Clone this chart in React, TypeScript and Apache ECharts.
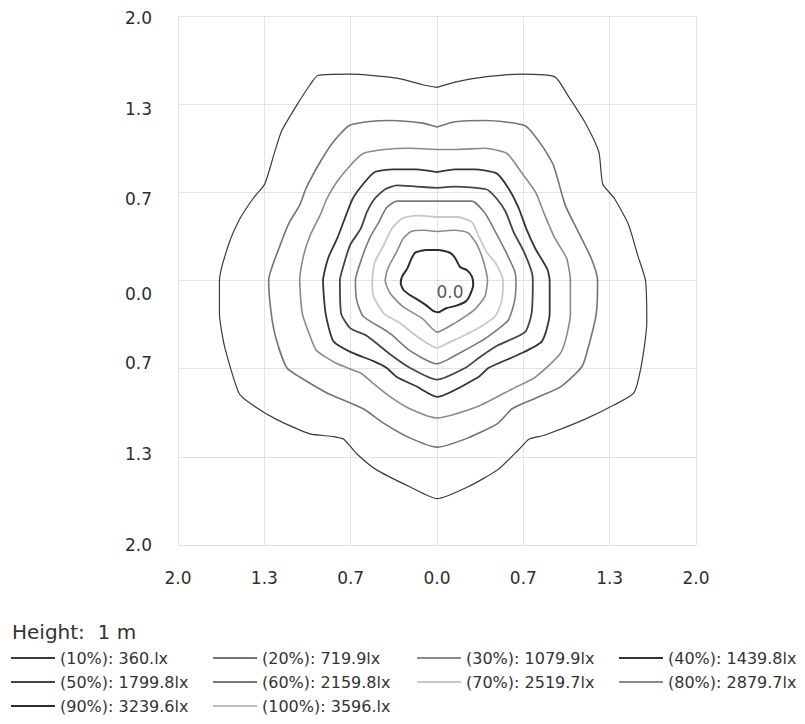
import React, { useEffect, useRef } from "react";
import * as echarts from "echarts";

// ---- tick labels ----
const xTickLabels = ["2.0", "1.3", "0.7", "0.0", "0.7", "1.3", "2.0"];
const yTickLabels = ["2.0", "1.3", "0.7", "0.0", "0.7", "1.3", "2.0"]; // bottom -> top

// ---- texts ----
const heightLabel = "Height:  1 m";
const centerLabel = "0.0";
const levelNames = [
  "(10%): 360.lx",
  "(20%): 719.9lx",
  "(30%): 1079.9lx",
  "(40%): 1439.8lx",
  "(50%): 1799.8lx",
  "(60%): 2159.8lx",
  "(70%): 2519.7lx",
  "(80%): 2879.7lx",
  "(90%): 3239.6lx",
  "(100%): 3596.lx",
];

// ---- isolux contours (x, y in metres) ----
const contour10 = [[0.00,1.46],[0.14,1.50],[0.37,1.54],[0.65,1.56],[0.91,1.54],[1.01,1.40],[1.14,1.20],[1.25,0.97],[1.28,0.73],[1.37,0.62],[1.48,0.42],[1.55,0.19],[1.61,0.00],[1.62,-0.32],[1.58,-0.63],[1.52,-0.85],[1.37,-0.94],[1.14,-1.05],[0.83,-1.17],[0.71,-1.20],[0.63,-1.28],[0.47,-1.43],[0.24,-1.56],[0.00,-1.65],[-0.21,-1.56],[-0.47,-1.43],[-0.62,-1.31],[-0.72,-1.20],[-0.80,-1.18],[-0.98,-1.16],[-1.24,-1.05],[-1.44,-0.93],[-1.53,-0.85],[-1.64,-0.50],[-1.68,-0.25],[-1.68,0.00],[-1.61,0.27],[-1.52,0.47],[-1.42,0.62],[-1.33,0.73],[-1.26,0.95],[-1.20,1.13],[-1.08,1.33],[-0.98,1.48],[-0.92,1.55],[-0.67,1.56],[-0.31,1.53],[-0.11,1.48]];
const contour20 = [[0.00,1.16],[0.14,1.20],[0.37,1.21],[0.68,1.17],[0.81,1.02],[0.90,0.87],[0.99,0.57],[1.09,0.37],[1.19,0.17],[1.24,0.00],[1.23,-0.25],[1.17,-0.50],[1.12,-0.65],[0.96,-0.80],[0.76,-0.89],[0.58,-0.97],[0.47,-1.08],[0.24,-1.19],[0.00,-1.26],[-0.21,-1.19],[-0.41,-1.08],[-0.57,-0.97],[-0.85,-0.85],[-1.06,-0.73],[-1.16,-0.66],[-1.24,-0.45],[-1.28,-0.25],[-1.30,0.00],[-1.21,0.27],[-1.14,0.44],[-1.06,0.57],[-1.01,0.70],[-0.90,0.90],[-0.80,1.05],[-0.68,1.17],[-0.54,1.20],[-0.36,1.21],[-0.11,1.19]];
const contour30 = [[0.00,0.99],[0.14,0.99],[0.37,1.00],[0.54,0.96],[0.65,0.82],[0.76,0.67],[0.83,0.50],[0.91,0.32],[1.00,0.17],[1.03,0.00],[1.03,-0.25],[0.96,-0.54],[0.76,-0.73],[0.58,-0.82],[0.32,-0.95],[0.00,-1.04],[-0.21,-0.97],[-0.36,-0.88],[-0.49,-0.78],[-0.59,-0.70],[-0.77,-0.63],[-0.93,-0.53],[-0.98,-0.42],[-1.04,-0.25],[-1.06,0.00],[-1.03,0.19],[-0.98,0.34],[-0.90,0.50],[-0.85,0.62],[-0.77,0.75],[-0.67,0.87],[-0.57,0.96],[-0.41,0.99],[-0.21,1.00]];
const contour40 = [[0.00,0.82],[0.14,0.84],[0.29,0.84],[0.46,0.81],[0.55,0.70],[0.63,0.55],[0.69,0.39],[0.76,0.24],[0.85,0.09],[0.87,0.00],[0.87,-0.25],[0.81,-0.46],[0.63,-0.56],[0.40,-0.66],[0.32,-0.73],[0.00,-0.88],[-0.16,-0.80],[-0.31,-0.73],[-0.39,-0.66],[-0.49,-0.61],[-0.67,-0.54],[-0.80,-0.46],[-0.86,-0.25],[-0.88,0.00],[-0.84,0.17],[-0.77,0.32],[-0.70,0.50],[-0.65,0.62],[-0.57,0.73],[-0.48,0.82],[-0.34,0.84],[-0.16,0.84]];
const contour50 = [[0.00,0.70],[0.14,0.71],[0.38,0.69],[0.46,0.62],[0.53,0.52],[0.59,0.37],[0.67,0.22],[0.73,0.07],[0.74,0.00],[0.73,-0.25],[0.68,-0.39],[0.47,-0.49],[0.33,-0.58],[0.22,-0.66],[0.00,-0.75],[-0.21,-0.66],[-0.36,-0.56],[-0.54,-0.42],[-0.67,-0.36],[-0.74,-0.25],[-0.75,0.00],[-0.72,0.12],[-0.67,0.27],[-0.59,0.39],[-0.54,0.52],[-0.48,0.62],[-0.40,0.69],[-0.31,0.72],[-0.16,0.71]];
const contour60 = [[0.00,0.60],[0.11,0.60],[0.27,0.60],[0.37,0.51],[0.45,0.37],[0.53,0.22],[0.60,0.07],[0.61,0.00],[0.60,-0.15],[0.55,-0.30],[0.40,-0.42],[0.32,-0.47],[0.19,-0.54],[0.00,-0.63],[-0.21,-0.53],[-0.35,-0.41],[-0.41,-0.37],[-0.57,-0.27],[-0.62,-0.15],[-0.63,0.00],[-0.58,0.17],[-0.52,0.32],[-0.45,0.44],[-0.39,0.55],[-0.31,0.60],[-0.18,0.60]];
const contour70 = [[0.00,0.48],[0.16,0.48],[0.27,0.44],[0.32,0.34],[0.38,0.22],[0.46,0.12],[0.51,0.00],[0.50,-0.15],[0.45,-0.27],[0.32,-0.36],[0.22,-0.41],[0.09,-0.47],[0.00,-0.51],[-0.13,-0.44],[-0.29,-0.32],[-0.41,-0.25],[-0.49,-0.12],[-0.50,0.00],[-0.48,0.14],[-0.41,0.27],[-0.35,0.39],[-0.27,0.47],[-0.16,0.49]];
const contour80 = [[0.00,0.37],[0.14,0.38],[0.24,0.36],[0.31,0.27],[0.36,0.14],[0.39,0.00],[0.37,-0.12],[0.29,-0.22],[0.14,-0.32],[0.00,-0.39],[-0.11,-0.29],[-0.26,-0.20],[-0.36,-0.10],[-0.40,0.00],[-0.38,0.09],[-0.31,0.22],[-0.26,0.32],[-0.20,0.37],[-0.11,0.38]];
const contour90 = [[-0.09,0.23],[0.01,0.23],[0.10,0.21],[0.14,0.17],[0.18,0.10],[0.23,0.08],[0.27,0.03],[0.28,-0.03],[0.25,-0.12],[0.22,-0.16],[0.15,-0.19],[0.07,-0.21],[0.01,-0.24],[-0.03,-0.23],[-0.08,-0.19],[-0.14,-0.15],[-0.21,-0.11],[-0.26,-0.07],[-0.28,-0.02],[-0.27,0.03],[-0.23,0.09],[-0.20,0.16],[-0.17,0.21],[-0.14,0.22]];
const contour100: number[][] = [];
const centerPoint = [[0, 0]];

const contours = [contour10, contour20, contour30, contour40, contour50, contour60, contour70, contour80, contour90, contour100];

// ---- styles ----
const FONT = "DejaVu Sans";
const levelColors = ["#3c3c3c", "#747474", "#8a8a8a", "#353535", "#444444", "#7a7a7a", "#c8c8c8", "#8a8a8a", "#2c2c2c", "#bdbdbd"];
const levelWidths = [1.2, 1.6, 1.6, 1.8, 1.8, 1.6, 1.8, 1.6, 2, 1.6];
const yLabelShift = [0, -3, -6, 13, 7, 5, 2]; // px, bottom -> top, + = down
const legendLefts = [11, 213, 417, 619];
const legendTops = [649, 673, 697];

export default function App() {
  const ref = useRef<HTMLDivElement>(null);
  useEffect(() => {
    if (!ref.current) return;
    const chart = echarts.init(ref.current, undefined, { renderer: "svg" });

    const rich: Record<string, any> = {};
    yLabelShift.forEach((s, i) => {
      rich["s" + i] = {
        fontSize: 17,
        fontFamily: FONT,
        color: "#2e2e2e",
        padding: s >= 0 ? [2 * s, 0, 0, 0] : [0, 0, -2 * s, 0],
      };
    });

    const lineSeries = contours.map((c, i) => ({
      name: levelNames[i],
      type: "line",
      data: c.length ? [...c, c[0]] : [],
      symbol: "none",
      smooth: 0.2,
      lineStyle: { color: levelColors[i], width: levelWidths[i] },
      itemStyle: { color: levelColors[i] },
      z: 3,
      silent: true,
    }));

    const legends = levelNames.map((n, i) => ({
      data: [n],
      left: legendLefts[i % 4],
      top: legendTops[Math.floor(i / 4)],
      orient: "horizontal",
      padding: 0,
      icon: "rect",
      itemWidth: 44,
      itemHeight: 2,
      selectedMode: false,
      textStyle: { fontSize: 16, color: "#333", fontFamily: FONT, lineHeight: 18 },
    }));

    chart.setOption({
      animation: false,
      backgroundColor: "#ffffff",
      title: {
        text: heightLabel,
        left: 12,
        top: 622,
        padding: 0,
        textStyle: { fontSize: 20, fontWeight: "normal", color: "#333", fontFamily: FONT },
      },
      legend: legends,
      grid: { left: 178, top: 16, width: 518, height: 529, containLabel: false },
      xAxis: {
        type: "value",
        min: -2,
        max: 2,
        interval: 2 / 3,
        axisLine: { show: false },
        axisTick: { show: false },
        splitLine: { show: true, lineStyle: { color: "#e3e3e3", width: 1 } },
        axisLabel: {
          margin: 24,
          fontSize: 17,
          fontFamily: FONT,
          color: "#2e2e2e",
          formatter: (_v: number, idx: number) => xTickLabels[idx] ?? "",
        },
      },
      yAxis: {
        type: "value",
        min: -2,
        max: 2,
        interval: 2 / 3,
        axisLine: { show: false },
        axisTick: { show: false },
        splitLine: { show: true, lineStyle: { color: "#e3e3e3", width: 1 } },
        axisLabel: {
          margin: 26,
          formatter: (_v: number, idx: number) => "{s" + idx + "|" + (yTickLabels[idx] ?? "") + "}",
          rich,
        },
      },
      series: [
        ...lineSeries,
        {
          type: "scatter",
          data: centerPoint,
          symbolSize: 1,
          itemStyle: { color: "#999" },
          silent: true,
          z: 4,
          label: {
            show: true,
            formatter: centerLabel,
            position: "right",
            offset: [-6, 11],
            fontSize: 17,
            fontFamily: FONT,
            color: "#2a2a2a",
            textBorderWidth: 0,
          },
        },
      ],
    });
    return () => chart.dispose();
  }, []);

  return (
    <div
      ref={ref}
      style={{ position: "fixed", left: 0, top: 0, width: 805, height: 724, background: "#fff" }}
    />
  );
}
